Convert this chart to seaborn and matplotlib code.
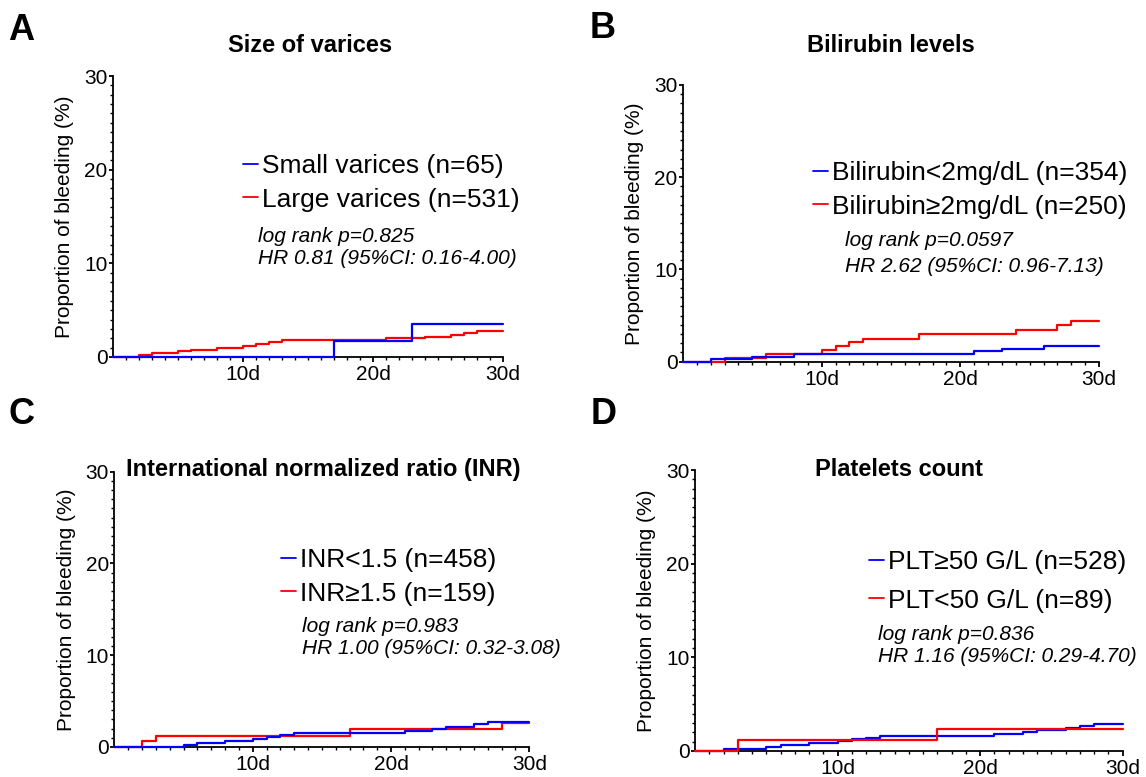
import matplotlib
matplotlib.use("Agg")
import matplotlib.pyplot as plt
import seaborn as sns
import pandas as pd
from matplotlib.lines import Line2D

# ---------------- data ----------------
# Panel A: size of varices
a_blue_t = [0, 17, 23, 30]
a_blue_v = [0, 1.75, 3.55, 3.55]
a_red_t = [0, 2, 3, 5, 6, 8, 10, 11, 12, 13, 21, 24, 26, 27, 28, 30]
a_red_v = [0, 0.19, 0.42, 0.6, 0.8, 0.98, 1.2, 1.4, 1.6, 1.8, 2.0, 2.18, 2.38, 2.58, 2.78, 2.78]

# Panel B: bilirubin
b_blue_t = [0, 2, 5, 8, 21, 23, 26, 30]
b_blue_v = [0, 0.25, 0.55, 0.83, 1.12, 1.4, 1.72, 1.72]
b_red_t = [0, 3, 6, 10, 11, 12, 13, 17, 24, 27, 28, 30]
b_red_v = [0, 0.4, 0.8, 1.25, 1.7, 2.1, 2.5, 3.0, 3.45, 3.95, 4.4, 4.4]

# Panel C: INR
c_blue_t = [0, 5, 6, 8, 10, 11, 12, 13, 21, 23, 24, 26, 27, 30]
c_blue_v = [0, 0.18, 0.4, 0.62, 0.83, 1.09, 1.3, 1.56, 1.78, 2.0, 2.2, 2.46, 2.68, 2.68]
c_red_t = [0, 2, 3, 17, 28, 30]
c_red_v = [0, 0.62, 1.23, 1.96, 2.6, 2.6]

# Panel D: platelets
d_blue_t = [0, 2, 5, 6, 8, 10, 11, 12, 13, 21, 23, 24, 26, 27, 28, 30]
d_blue_v = [0, 0.2, 0.43, 0.64, 0.85, 1.07, 1.25, 1.42, 1.64, 1.85, 2.06, 2.28, 2.5, 2.67, 2.88, 2.88]
d_red_t = [0, 3, 17, 30]
d_red_v = [0, 1.17, 2.35, 2.35]

panel_letters = ["A", "B", "C", "D"]
panel_titles = ["Size of varices", "Bilirubin levels",
                "International normalized ratio (INR)", "Platelets count"]
blue_labels = ["Small varices (n=65)", "Bilirubin<2mg/dL (n=354)",
               "INR<1.5 (n=458)", "PLT\u226550 G/L (n=528)"]
red_labels = ["Large varices (n=531)", "Bilirubin\u22652mg/dL (n=250)",
              "INR\u22651.5 (n=159)", "PLT<50 G/L (n=89)"]
stat_p = ["log rank p=0.825", "log rank p=0.0597", "log rank p=0.983", "log rank p=0.836"]
stat_hr = ["HR 0.81 (95%CI: 0.16-4.00)", "HR 2.62 (95%CI: 0.96-7.13)",
           "HR 1.00 (95%CI: 0.32-3.08)", "HR 1.16 (95%CI: 0.29-4.70)"]
x_tick_vals = [10, 20, 30]
x_tick_labels = ["10d", "20d", "30d"]
y_tick_vals = [0, 10, 20, 30]

series = [
    (a_blue_t, a_blue_v, a_red_t, a_red_v),
    (b_blue_t, b_blue_v, b_red_t, b_red_v),
    (c_blue_t, c_blue_v, c_red_t, c_red_v),
    (d_blue_t, d_blue_v, d_red_t, d_red_v),
]

# ---------------- style ----------------
sns.set_style("ticks")
plt.rcParams["font.family"] = ["Liberation Sans", "DejaVu Sans"]
plt.rcParams["axes.linewidth"] = 1.3
plt.rcParams["text.color"] = "black"
plt.rcParams["axes.labelcolor"] = "black"
plt.rcParams["xtick.color"] = "black"
plt.rcParams["ytick.color"] = "black"

W, H = 1146, 777
fig = plt.figure(figsize=(W / 100, H / 100), dpi=100)

# axes boxes in pixels: (left x, right x, top y(30), bottom y(0))
boxes = [(113, 503, 76, 357), (683, 1099, 85, 361.7),
         (114.4, 529.3, 471.7, 747), (695, 1122.7, 470, 751)]
# legend (marker left x, first row center y, row gap), stats (x, y1, y2)
leg_pos = [(243, 163, 33), (813, 170, 33), (281, 557, 33), (869, 559, 38)]
stat_pos = [(258, 237, 258), (845, 241, 266), (302, 626, 648), (878, 634, 657)]
letter_pos = [(21, 30), (603, 29), (22, 415), (604, 415)]
title_pos = [(310, 46), (891, 46), (323, 469), (899, 469)]
red_on_top = [False, False, False, True]

BLUE = "#0000FF"
RED = "#FF0000"

for i in range(4):
    l, r, t, b = boxes[i]
    ax = fig.add_axes([l / W, 1 - b / H, (r - l) / W, (b - t) / H])
    bt, bv, rt, rv = series[i]
    df_b = pd.DataFrame({"day": bt, "pct": bv})
    df_r = pd.DataFrame({"day": rt, "pct": rv})
    zb, zr = (4, 5) if red_on_top[i] else (5, 4)
    sns.lineplot(data=df_r, x="day", y="pct", color=RED, drawstyle="steps-post",
                 estimator=None, lw=1.6, ax=ax, zorder=zr, clip_on=False)
    sns.lineplot(data=df_b, x="day", y="pct", color=BLUE, drawstyle="steps-post",
                 estimator=None, lw=1.6, ax=ax, zorder=zb, clip_on=False)

    ax.set_xlim(0, 30)
    ax.set_ylim(0, 30)
    ax.set_xticks(x_tick_vals)
    ax.set_xticklabels(x_tick_labels)
    ax.set_xticks(list(range(1, 30)), minor=True)
    ax.set_yticks(y_tick_vals)
    ax.set_yticks(list(range(0, 31)), minor=True)
    ax.tick_params(axis="x", which="major", length=3.8, width=1.3, labelsize=15,
                   direction="out", pad=2)
    ax.tick_params(axis="y", which="major", length=3.2, width=1.3, labelsize=15,
                   direction="out", pad=0.8)
    ax.tick_params(axis="both", which="minor", length=2.3, width=1.0, direction="out")
    ax.set_xlabel("")
    ax.set_ylabel("Proportion of bleeding (%)", fontsize=15, labelpad=7)
    sns.despine(ax=ax)
    for s in ("left", "bottom"):
        ax.spines[s].set_color("black")

    # legend
    mx, my, gap = leg_pos[i]
    fs = 19
    fs_px = fs * 100 / 72
    row_h = 0.88 * fs_px
    handles = [Line2D([], [], color=BLUE, lw=1.3), Line2D([], [], color=RED, lw=1.3)]
    top_px = my - 0.35 * fs_px
    ax.legend(handles, [blue_labels[i], red_labels[i]], loc="upper left",
              bbox_to_anchor=((mx - l) / (r - l), (b - top_px) / (b - t)),
              frameon=False, fontsize=fs, handlelength=0.57, handletextpad=0.15,
              labelspacing=(gap - row_h) / fs_px, borderpad=0,
              borderaxespad=0)

    sx, sy1, sy2 = stat_pos[i]
    ax.text((sx - l) / (r - l), (b - sy1) / (b - t), stat_p[i], transform=ax.transAxes,
            fontsize=15, style="italic", va="center", ha="left")
    ax.text((sx - l) / (r - l), (b - sy2) / (b - t), stat_hr[i], transform=ax.transAxes,
            fontsize=15, style="italic", va="center", ha="left")

    lx, ly = letter_pos[i]
    fig.text(lx / W, 1 - ly / H, panel_letters[i], fontsize=26, fontweight="bold",
             ha="center", va="center")
    tx, ty = title_pos[i]
    fig.text(tx / W, 1 - ty / H, panel_titles[i], fontsize=17, fontweight="bold",
             ha="center", va="center")

fig.savefig("out.png", dpi=100)
